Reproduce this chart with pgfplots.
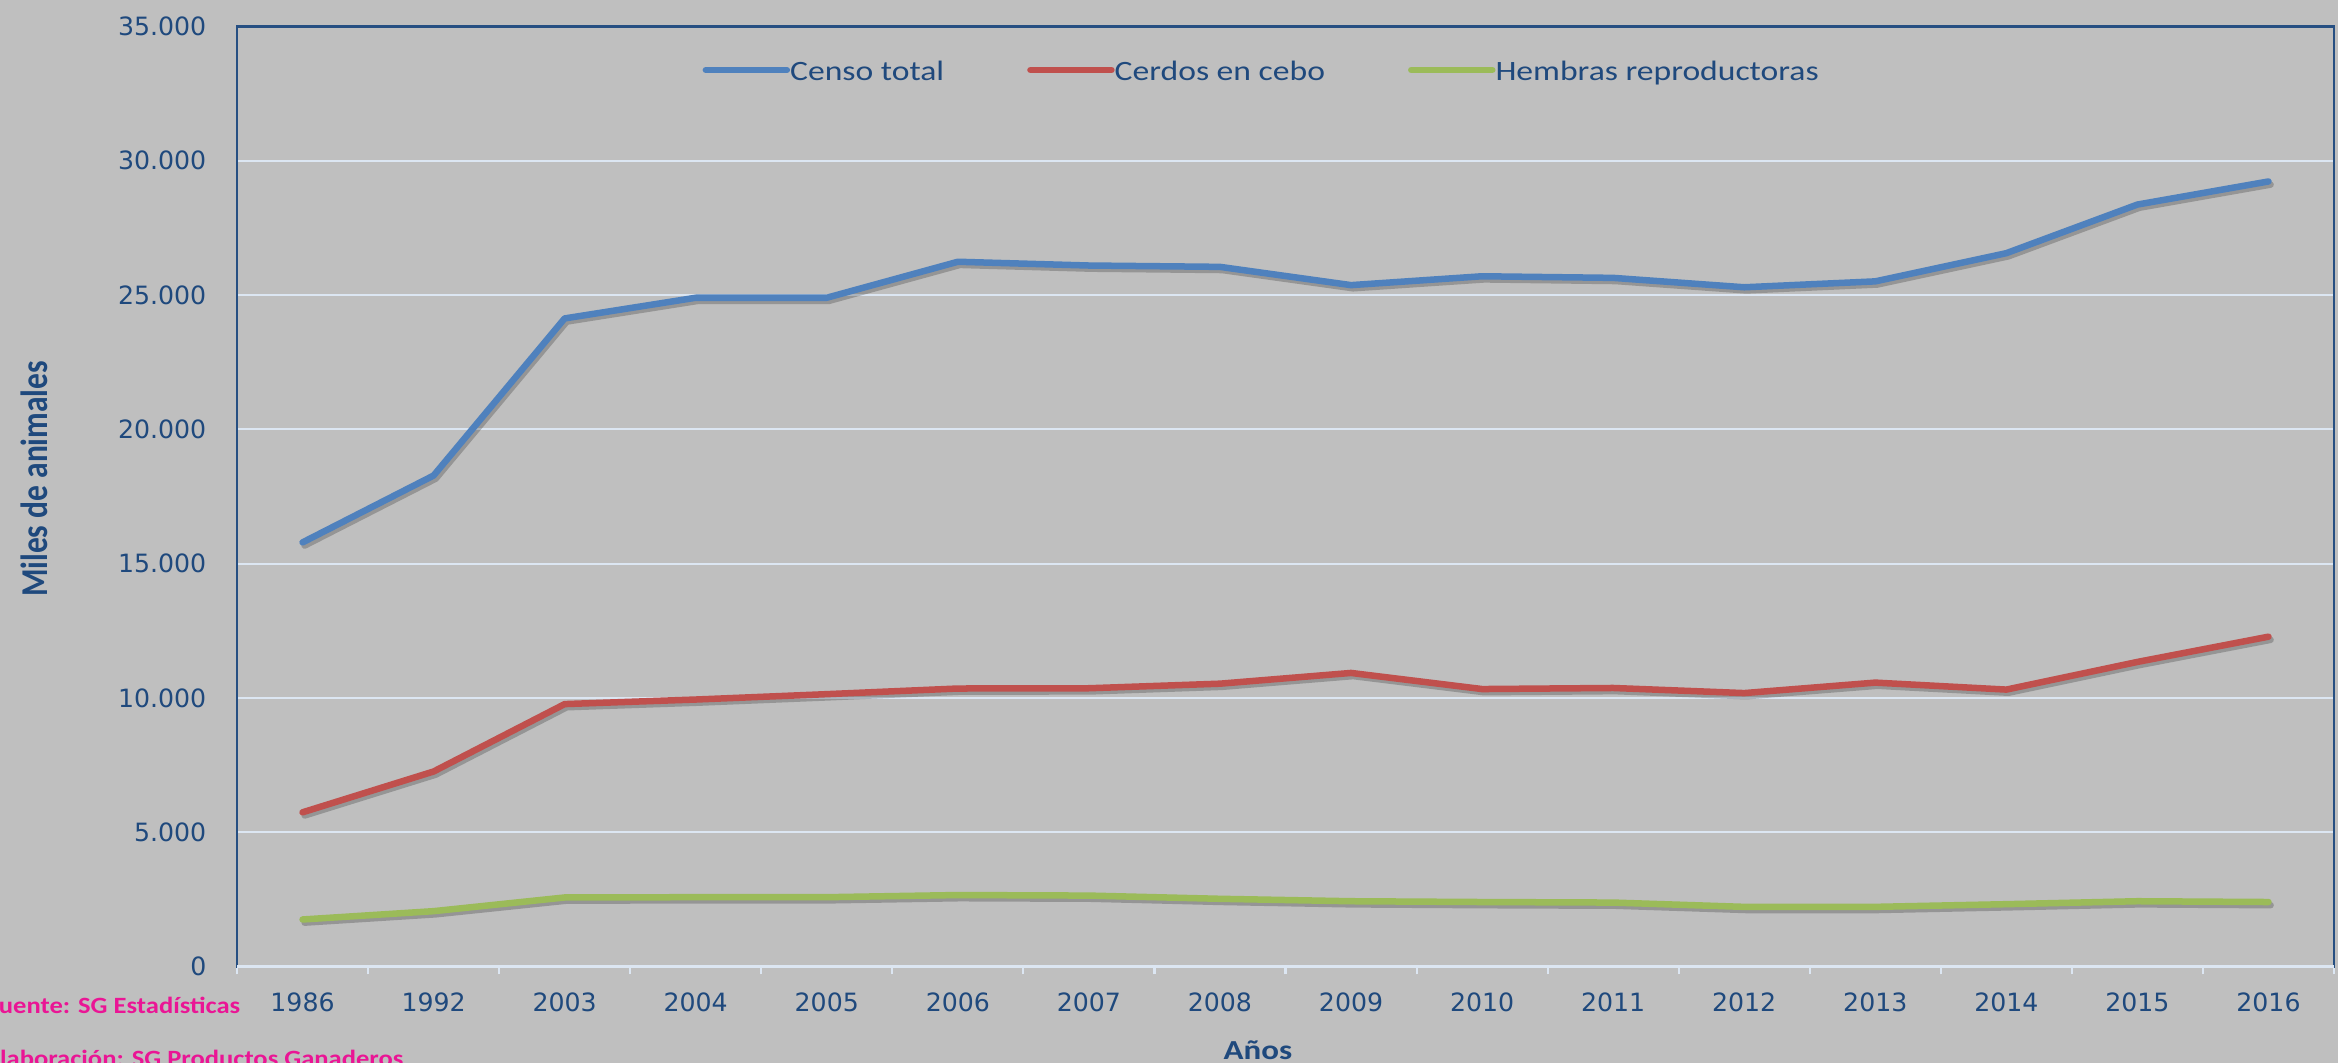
\documentclass[border=0pt]{standalone}
\usepackage{fontspec}
\usepackage{pgfplots}
\usepackage{pgfplotstable}
\pgfplotsset{compat=1.18}

\newfontfamily\tickfont{DejaVu Sans}
\newfontfamily\legfont[FakeStretch=1.2]{Carlito}
\newfontfamily\srcfont[FakeStretch=1.14]{Carlito}
\newfontfamily\ylabfont[FakeStretch=0.83]{Carlito}

\definecolor{bg}{HTML}{BFBFBF}
\definecolor{txt}{HTML}{1F497D}
\definecolor{axc}{HTML}{264F82}
\definecolor{gridc}{HTML}{DCE6F2}
\definecolor{cblue}{HTML}{4F81BD}
\definecolor{cred}{HTML}{C0504D}
\definecolor{cgreen}{HTML}{9BBB59}
\definecolor{src}{HTML}{EA1595}

% miles de animales
\pgfplotstableread{
x year censo cebo hembras
0  1986 15790 5740  1750
1  1992 18280 7260  2060
2  2003 24130 9770  2570
3  2004 24900 9940  2580
4  2005 24900 10140 2580
5  2006 26240 10350 2660
6  2007 26100 10360 2640
7  2008 26050 10530 2520
8  2009 25370 10930 2430
9  2010 25700 10330 2400
10 2011 25640 10370 2380
11 2012 25290 10180 2220
12 2013 25510 10570 2220
13 2014 26560 10310 2320
14 2015 28370 11340 2430
15 2016 29230 12280 2400
}\data

\begin{document}
\begin{tikzpicture}
\fill[bg] (0,0) rectangle (23.38,10.63);
\begin{axis}[
  at={(2.37cm,0.965cm)}, anchor=south west,
  scale only axis, width=20.97cm, height=9.40cm,
  xmin=-0.5, xmax=15.5, ymin=0, ymax=35000,
  xtick={0,...,15},
  xticklabels={1986,1992,2003,2004,2005,2006,2007,2008,2009,2010,2011,2012,2013,2014,2015,2016},
  minor xtick={-0.5,0.5,...,15.5},
  ytick={0,5000,...,35000},
  scaled y ticks=false,
  /pgf/number format/1000 sep={.},
  /pgf/number format/assume math mode=true,
  tick align=outside, xtick pos=bottom, ytick pos=left,
  major x tick style={draw=none},
  major y tick style={draw=none},
  minor x tick style={gridc, line width=0.6pt},
  minor tick length=0.08cm,
  tick label style={font=\tickfont\fontsize{7.17}{8}\selectfont, text=txt},
  xticklabel style={anchor=base, yshift=-0.30cm},
  yticklabel style={anchor=east, inner sep=0pt, xshift=-0.15cm},
  ymajorgrids, major grid style={gridc, line width=0.6pt},
  axis line style={axc, line width=0.6pt},
  legend columns=3,
  legend style={at={(0.2217,0.950)}, anchor=west, draw=none, fill=none,
    inner sep=0pt, nodes={inner sep=0pt},
    font=\legfont\fontsize{7.97}{9}\selectfont, text=txt,
    /tikz/every odd column/.append style={column sep=0cm},
    /tikz/every even column/.append style={column sep=0.83cm}},
  legend image code/.code={\draw[#1, line width=1.85pt, line cap=round] (0cm,0.035cm) -- (0.81cm,0.035cm);},
  every axis plot/.append style={line width=1.85pt, line join=round, line cap=round},
  after end axis/.code={\draw[gridc, line width=0.6pt] (rel axis cs:0,0) -- (rel axis cs:1,0);},
]
\addplot[black, opacity=0.22, forget plot, transform canvas={xshift=0.6pt, yshift=-0.9pt}] table[x=x, y=censo] {\data};
\addplot[cblue] table[x=x, y=censo] {\data};
\addlegendentry{Censo total}
\addplot[black, opacity=0.22, forget plot, transform canvas={xshift=0.6pt, yshift=-0.9pt}] table[x=x, y=cebo] {\data};
\addplot[cred] table[x=x, y=cebo] {\data};
\addlegendentry{Cerdos en cebo}
\addplot[black, opacity=0.22, forget plot, transform canvas={xshift=0.6pt, yshift=-0.9pt}] table[x=x, y=hembras] {\data};
\addplot[cgreen] table[x=x, y=hembras] {\data};
\addlegendentry{Hembras reproductoras}
\end{axis}
\node[rotate=90, anchor=base, text=txt, font=\ylabfont\bfseries\fontsize{10.8}{12}\selectfont] at (0.473,5.84) {Miles de animales};
\node[anchor=base, inner sep=0pt, text=txt, font=\legfont\bfseries\fontsize{7.82}{9}\selectfont] at (12.58,0.03) {Años};
\node[anchor=base east, inner sep=0pt, text=src, font=\srcfont\bfseries\fontsize{6.63}{8}\selectfont] at (2.41,0.49) {Fuente: SG Estadísticas};
\node[anchor=base east, inner sep=0pt, text=src, font=\srcfont\bfseries\fontsize{6.63}{8}\selectfont] at (4.04,-0.04) {Elaboración: SG Productos Ganaderos};
\pgfresetboundingbox
\path[use as bounding box] (0,0) rectangle (23.38,10.63);
\end{tikzpicture}
\end{document}
